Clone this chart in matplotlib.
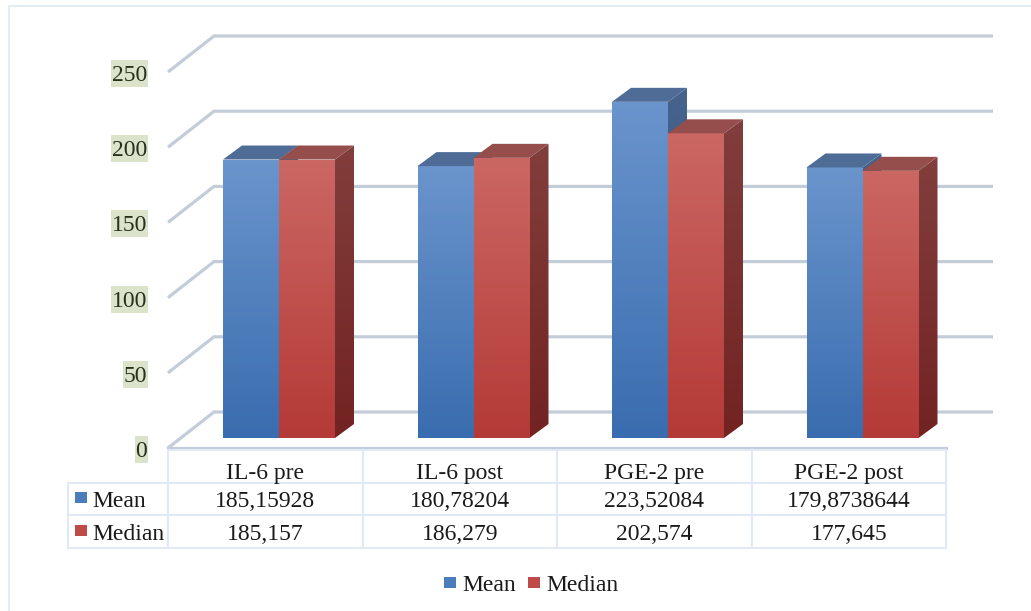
import matplotlib
matplotlib.use('Agg')
import matplotlib.pyplot as plt
import numpy as np
from matplotlib.patches import Polygon, Rectangle

W, H = 1031, 611

categories = ['IL-6 pre', 'IL-6 post', 'PGE-2 pre', 'PGE-2 post']
mean_labels = ['185,15928', '180,78204', '223,52084', '179,8738644']
median_labels = ['185,157', '186,279', '202,574', '177,645']
mean_values = [185.15928, 180.78204, 223.52084, 179.8738644]
median_values = [185.157, 186.279, 202.574, 177.645]
y_ticks = [0, 50, 100, 150, 200, 250]

BLUE = {'front': ('#6A94CC', '#3A6DAF'), 'side': ('#46638C', '#2E5585'), 'top': '#4F6C96', 'key': '#4A7EBB'}
RED = {'front': ('#CB6763', '#B43A37'), 'side': ('#823E3C', '#722322'), 'top': '#964E4C', 'key': '#BE4B48'}
GRID = '#C3CCD9'
TABLE = '#E0E9F5'
TEXT = '#1A1A1A'
HILITE = '#DCE3CB'

plt.rcParams['font.family'] = ['Liberation Serif', 'DejaVu Serif']
plt.rcParams['font.size'] = 17

fig = plt.figure(figsize=(W / 100, H / 100), dpi=100)


def box(left, top, right, bottom):
    return [left / W, 1 - bottom / H, (right - left) / W, (bottom - top) / H]


# the plot axes: x is category index, y is the value on the front plane of the bars
ax = fig.add_axes(box(168, 62, 946, 438))
ax.set_xlim(-0.5, 3.5)
ax.set_ylim(0, 250)
ax.axis('off')

px_x = 4 / 778
px_y = 250 / 376
depth_x = 19 * px_x
depth_y = 14 * px_y
bar_w = 56 * px_x


def shaded(pts, colors, ymin, ymax):
    # vertical gradient clipped to a polygon
    c0 = np.array(matplotlib.colors.to_rgb(colors[0]))
    c1 = np.array(matplotlib.colors.to_rgb(colors[1]))
    t = np.linspace(0, 1, 64)[:, None]
    grad = (c0 * (1 - t) + c1 * t)[:, None, :]
    xs = [p[0] for p in pts]
    img = ax.imshow(grad, extent=(min(xs), max(xs), ymin, ymax), aspect='auto', origin='upper', zorder=3)
    img.set_clip_path(Polygon(pts, closed=True, transform=ax.transData))


def draw_bar(x0, value, style):
    x1 = x0 + bar_w
    shaded([(x0, 0), (x1, 0), (x1, value), (x0, value)], style['front'], 0, value)
    shaded([(x1, 0), (x1 + depth_x, depth_y), (x1 + depth_x, value + depth_y), (x1, value)],
           style['side'], 0, value + depth_y)
    ax.add_patch(Polygon([(x0, value), (x1, value), (x1 + depth_x, value + depth_y), (x0 + depth_x, value + depth_y)],
                         closed=True, facecolor=style['top'], edgecolor='none', zorder=3, clip_on=False))


# walls: front edge of each gridline runs back to the wall then across
front_dy = -10 * px_y
back_dy = 26 * px_y
for v in y_ticks:
    ax.plot([-0.5, -0.5 + 46 * px_x, -0.5 + 825 * px_x], [v + front_dy, v + back_dy, v + back_dy],
            color=GRID, lw=2.3, clip_on=False, zorder=1, solid_joinstyle='miter', solid_capstyle='butt')
    label = str(v)
    hl_w = (12 * len(label) + 1) * px_x
    ax.add_patch(Rectangle((-0.5 - 20 * px_x - hl_w, v + front_dy - 15 * px_y), hl_w, 27 * px_y,
                           facecolor=HILITE, edgecolor='none', clip_on=False, zorder=1))
    ax.text(-0.5 - 21 * px_x, v + front_dy - 1 * px_y, label, ha='right', va='center_baseline',
            color='#26301C', clip_on=False, zorder=2)
ax.plot([-0.5, -0.5 + 778 * px_x], [front_dy, front_dy], color=GRID, lw=2.3, clip_on=False, zorder=1)

for i in range(len(categories)):
    left = i + (-0.5 + 55 / 194.5)
    draw_bar(left, mean_values[i], BLUE)
    draw_bar(left + bar_w, median_values[i], RED)

# data table below the plot
tab_ax = fig.add_axes(box(68, 450, 946, 548))
tab_ax.axis('off')
cell_text = [[''] * 5, ['Mean'] + mean_labels, ['Median'] + median_labels]
col_w = [100 / 878] + [194.5 / 878] * 4
tab = tab_ax.table(cellText=cell_text, colWidths=col_w, bbox=[0, 0, 1, 1], cellLoc='center')
tab.auto_set_font_size(False)
for (r, c), cell in tab.get_celld().items():
    cell.set_edgecolor(TABLE)
    cell.set_linewidth(1.5)
    cell.get_text().set_fontsize(17)
    cell.get_text().set_color(TEXT)
    cell.get_text().set_va('center_baseline')
    if r == 0 and c == 0:
        cell.visible_edges = 'B'
    if r > 0 and c == 0:
        cell.get_text().set_ha('left')
        cell.PAD = 24 / 100

# frame of the picture and the highlight behind the first header, in figure pixels
back = fig.add_axes([0, 0, 1, 1], zorder=-1)
back.set_xlim(0, W)
back.set_ylim(H, 0)
back.axis('off')
back.plot([8.5, 8.5, W], [H, 6, 6], color='#E4ECF8', lw=1.4)
back.add_patch(Rectangle((227, 456), 20, 26, facecolor=HILITE, edgecolor='none'))

keys = fig.add_axes([0, 0, 1, 1], zorder=5)
keys.set_xlim(0, W)
keys.set_ylim(H, 0)
keys.axis('off')
for i, name in enumerate(categories):
    keys.text(168 + 194.5 * (i + 0.5), 471, name, va='center_baseline', ha='center', color=TEXT)
for x, y, c in [(75, 492, BLUE['key']), (75, 525, RED['key']), (444, 577, BLUE['key']), (528, 577, RED['key'])]:
    keys.add_patch(Rectangle((x, y), 12, 11, facecolor=c, edgecolor='none'))
keys.text(462, 583, 'Mean', va='center_baseline', ha='left', color=TEXT)
keys.text(546, 583, 'Median', va='center_baseline', ha='left', color=TEXT)

fig.savefig('out.png', dpi=100)
plt.close(fig)
